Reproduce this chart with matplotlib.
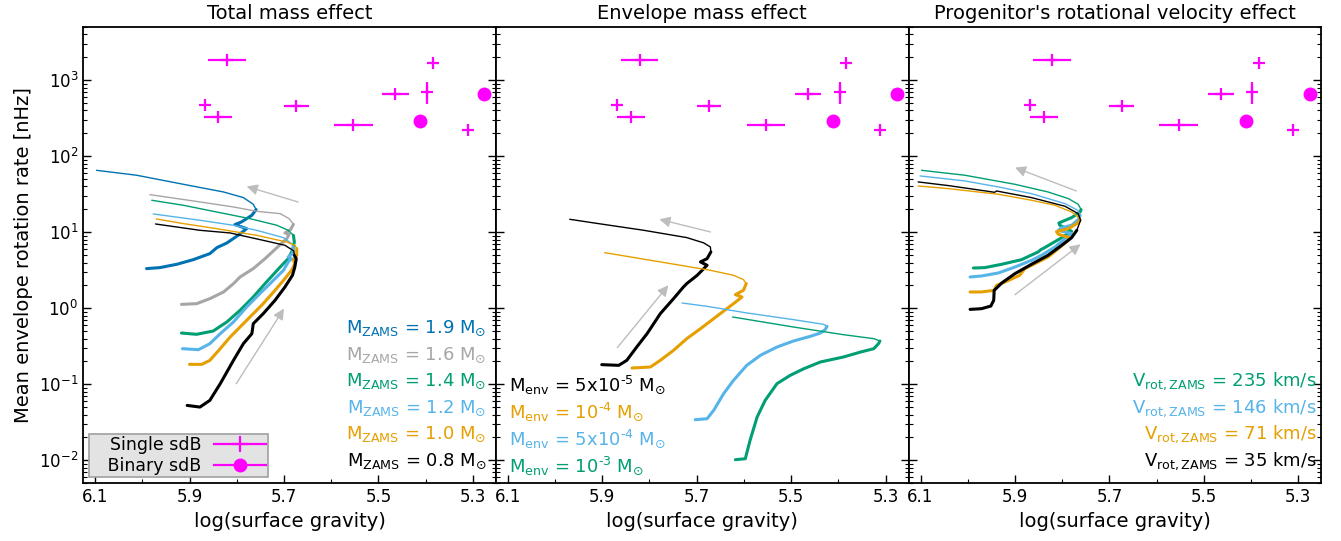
"""Envelope rotation rate vs surface gravity for sdB models, three effects side by side."""
import matplotlib

matplotlib.use("Agg")
import matplotlib.pyplot as plt  # noqa: E402
import numpy as np  # noqa: E402
from matplotlib.lines import Line2D  # noqa: E402
from matplotlib.ticker import FixedLocator  # noqa: E402

plt.rcParams["axes.unicode_minus"] = False

# --- observed sdB stars: log g, rotation rate [nHz] ---
SINGLE_LOGG = [5.821, 5.384, 5.868, 5.839, 5.674, 5.553, 5.464, 5.397, 5.311]
SINGLE_RATE = [1850, 1675, 469, 333, 455, 258, 655, 710, 220]
SINGLE_LOGG_ERR = [0.040, 0.0, 0.0, 0.030, 0.026, 0.041, 0.028, 0.0, 0.0]
SINGLE_RATE_ERR = [0, 0, 0, 0, 0, 0, 0, 225, 0]
BINARY_LOGG = [5.411, 5.276]
BINARY_RATE = [292, 649]

# --- model tracks: (log g, log10 rate[nHz]); thick = contraction, thin = expansion ---
# Total mass effect
M19_THICK = [(5.991, 0.522), (5.963, 0.535), (5.927, 0.579), (5.892, 0.640), (5.857, 0.719),
             (5.842, 0.798), (5.821, 0.859), (5.797, 0.960), (5.779, 1.048), (5.804, 1.101),
             (5.790, 1.136), (5.768, 1.223), (5.759, 1.298)]
M19_THIN = [(5.759, 1.298), (5.765, 1.368), (5.786, 1.456), (5.828, 1.530), (5.913, 1.631),
            (6.012, 1.750), (6.097, 1.815)]
M16_THICK = [(5.917, 0.052), (5.885, 0.061), (5.857, 0.127), (5.828, 0.215), (5.807, 0.324),
             (5.793, 0.412), (5.765, 0.522), (5.740, 0.653), (5.715, 0.798), (5.694, 0.916),
             (5.689, 0.973), (5.698, 0.991), (5.686, 1.035), (5.680, 1.105)]
M16_THIN = [(5.680, 1.105), (5.689, 1.179), (5.708, 1.245), (5.758, 1.276), (5.807, 1.333),
            (5.878, 1.399), (5.984, 1.495)]
M14_THICK = [(5.917, -0.325), (5.885, -0.342), (5.850, -0.299), (5.821, -0.180), (5.793, -0.027),
             (5.765, 0.149), (5.737, 0.346), (5.708, 0.543), (5.691, 0.653), (5.682, 0.763),
             (5.678, 0.872), (5.680, 0.960)]
M14_THIN = [(5.680, 0.960), (5.691, 1.026), (5.715, 1.092), (5.772, 1.179), (5.843, 1.267),
            (5.913, 1.355), (5.980, 1.421)]
M12_THICK = [(5.915, -0.531), (5.881, -0.544), (5.857, -0.465), (5.835, -0.334), (5.807, -0.180),
             (5.779, 0.017), (5.751, 0.193), (5.726, 0.346), (5.701, 0.500), (5.691, 0.609),
             (5.684, 0.653), (5.691, 0.675), (5.682, 0.719), (5.680, 0.798)]
M12_THIN = [(5.680, 0.798), (5.684, 0.851), (5.701, 0.929), (5.758, 1.026), (5.807, 1.092),
            (5.878, 1.158), (5.977, 1.241)]
M10_THICK = [(5.900, -0.737), (5.874, -0.737), (5.857, -0.685), (5.835, -0.531), (5.814, -0.378),
             (5.793, -0.246), (5.765, -0.071), (5.744, 0.061), (5.722, 0.215), (5.701, 0.368),
             (5.684, 0.500), (5.677, 0.587), (5.680, 0.631), (5.673, 0.697), (5.673, 0.785)]
M10_THIN = [(5.673, 0.785), (5.677, 0.829), (5.694, 0.872), (5.758, 0.960), (5.843, 1.048),
            (5.913, 1.114), (5.970, 1.175)]
M08_THICK = [(5.905, -1.277), (5.878, -1.299), (5.857, -1.211), (5.835, -0.992), (5.807, -0.685),
             (5.786, -0.465), (5.768, -0.334), (5.765, -0.202), (5.744, -0.071), (5.719, 0.105),
             (5.698, 0.280), (5.682, 0.434), (5.677, 0.543), (5.674, 0.653), (5.678, 0.697)]
M08_THIN = [(5.678, 0.697), (5.679, 0.754), (5.698, 0.829), (5.744, 0.894), (5.814, 0.991),
            (5.878, 1.026), (5.972, 1.109)]

# Envelope mass effect
E5_THICK = [(5.901, -0.741), (5.865, -0.750), (5.848, -0.684), (5.827, -0.509), (5.805, -0.333),
            (5.777, -0.070), (5.749, 0.127), (5.728, 0.281), (5.721, 0.325), (5.699, 0.434),
            (5.678, 0.566), (5.692, 0.610), (5.678, 0.653), (5.670, 0.741)]
E5_THIN = [(5.670, 0.741), (5.671, 0.807), (5.685, 0.860), (5.721, 0.930), (5.812, 1.026),
           (5.918, 1.123), (5.969, 1.171)]
E4_THICK = [(5.837, -0.785), (5.798, -0.772), (5.777, -0.684), (5.749, -0.553), (5.721, -0.399),
            (5.692, -0.268), (5.664, -0.136), (5.636, -0.004), (5.622, 0.061), (5.604, 0.149),
            (5.618, 0.180), (5.601, 0.237), (5.595, 0.325)]
E4_THIN = [(5.595, 0.325), (5.601, 0.377), (5.622, 0.434), (5.671, 0.500), (5.777, 0.610),
           (5.895, 0.732)]
E54_THICK = [(5.703, -1.465), (5.678, -1.452), (5.664, -1.342), (5.643, -1.123), (5.622, -0.947),
             (5.594, -0.750), (5.565, -0.618), (5.530, -0.509), (5.495, -0.430), (5.459, -0.368),
             (5.438, -0.325), (5.428, -0.281), (5.424, -0.237)]
E54_THIN = [(5.424, -0.237), (5.431, -0.211), (5.495, -0.149), (5.594, -0.061), (5.678, 0.026),
            (5.731, 0.070)]
E3_THICK = [(5.618, -1.991), (5.597, -1.978), (5.587, -1.737), (5.572, -1.430), (5.555, -1.211),
            (5.530, -0.991), (5.502, -0.882), (5.473, -0.794), (5.438, -0.706), (5.389, -0.640),
            (5.353, -0.575), (5.325, -0.531), (5.315, -0.465), (5.312, -0.430)]
E3_THIN = [(5.312, -0.430), (5.325, -0.399), (5.389, -0.347), (5.495, -0.246), (5.624, -0.114)]

# Progenitor's rotational velocity effect
V235_THICK = [(5.988, 0.530), (5.964, 0.535), (5.928, 0.579), (5.886, 0.640), (5.851, 0.741),
              (5.845, 0.772), (5.837, 0.798), (5.801, 0.929), (5.780, 1.013), (5.805, 1.092),
              (5.807, 1.122), (5.780, 1.193), (5.762, 1.267), (5.760, 1.298)]
V235_THIN = [(5.760, 1.298), (5.766, 1.368), (5.787, 1.443), (5.830, 1.530), (5.900, 1.631),
             (6.006, 1.750), (6.098, 1.815)]
V146_THICK = [(5.995, 0.412), (5.971, 0.425), (5.935, 0.465), (5.900, 0.543), (5.865, 0.631),
              (5.844, 0.697), (5.815, 0.807), (5.794, 0.916), (5.780, 0.982), (5.808, 1.026),
              (5.801, 1.061), (5.780, 1.092), (5.766, 1.166), (5.762, 1.223)]
V146_THIN = [(5.762, 1.223), (5.767, 1.289), (5.794, 1.377), (5.865, 1.508), (5.935, 1.596),
             (6.006, 1.675), (6.101, 1.741)]
V71_THICK = [(5.995, 0.215), (5.971, 0.215), (5.944, 0.236), (5.939, 0.302), (5.921, 0.346),
             (5.890, 0.434), (5.879, 0.522), (5.858, 0.587), (5.830, 0.675), (5.808, 0.785),
             (5.787, 0.894), (5.784, 0.929), (5.808, 0.973), (5.812, 1.008), (5.787, 1.048),
             (5.769, 1.114), (5.762, 1.158)]
V71_THIN = [(5.762, 1.158), (5.766, 1.201), (5.780, 1.267), (5.815, 1.355), (5.865, 1.421),
            (5.935, 1.500), (6.041, 1.574), (6.105, 1.609)]
V35_THICK = [(5.995, -0.014), (5.971, -0.005), (5.951, 0.030), (5.945, 0.105), (5.944, 0.236),
             (5.928, 0.333), (5.900, 0.456), (5.865, 0.579), (5.830, 0.697), (5.801, 0.829),
             (5.780, 0.929), (5.769, 1.026)]
V35_THIN = [(5.769, 1.026), (5.761, 1.158), (5.766, 1.245), (5.794, 1.342), (5.865, 1.456),
            (5.939, 1.543), (5.943, 1.526), (6.041, 1.614), (6.105, 1.662)]

# evolution-direction arrows per panel: (tail, head) in (log g, rate)
ARROWS = [
    [((5.801, 0.102), (5.700, 0.99)), ((5.670, 25.0), (5.779, 40.0))],
    [((5.868, 0.304), (5.760, 2.01)), ((5.671, 10.1), (5.779, 14.8))],
    [((5.900, 1.51), (5.761, 6.95)), ((5.770, 34.9), (5.900, 71.0))],
]

TITLES = ["Total mass effect", "Envelope mass effect",
          "Progenitor's rotational velocity effect"]

BLUE, GREY, GREEN, SKY, ORANGE, BLACK = ("#0072B2", "#a6a6a6", "#009E73",
                                         "#56B4E9", "#E69F00", "black")

PANELS = [
    [(M19_THICK, M19_THIN, BLUE, r"M$_{\rm ZAMS}$ = 1.9 M$_{\odot}$"),
     (M16_THICK, M16_THIN, GREY, r"M$_{\rm ZAMS}$ = 1.6 M$_{\odot}$"),
     (M14_THICK, M14_THIN, GREEN, r"M$_{\rm ZAMS}$ = 1.4 M$_{\odot}$"),
     (M12_THICK, M12_THIN, SKY, r"M$_{\rm ZAMS}$ = 1.2 M$_{\odot}$"),
     (M10_THICK, M10_THIN, ORANGE, r"M$_{\rm ZAMS}$ = 1.0 M$_{\odot}$"),
     (M08_THICK, M08_THIN, BLACK, r"M$_{\rm ZAMS}$ = 0.8 M$_{\odot}$")],
    [(E5_THICK, E5_THIN, BLACK, r"M$_{\rm env}$ = 5x10$^{\text{-5}}$ M$_{\odot}$"),
     (E4_THICK, E4_THIN, ORANGE, r"M$_{\rm env}$ = 10$^{\text{-4}}$ M$_{\odot}$"),
     (E54_THICK, E54_THIN, SKY, r"M$_{\rm env}$ = 5x10$^{\text{-4}}$ M$_{\odot}$"),
     (E3_THICK, E3_THIN, GREEN, r"M$_{\rm env}$ = 10$^{\text{-3}}$ M$_{\odot}$")],
    [(V235_THICK, V235_THIN, GREEN, r"V$_{\rm rot,ZAMS}$ = 235 km/s"),
     (V146_THICK, V146_THIN, SKY, r"V$_{\rm rot,ZAMS}$ = 146 km/s"),
     (V71_THICK, V71_THIN, ORANGE, r"V$_{\rm rot,ZAMS}$ = 71 km/s"),
     (V35_THICK, V35_THIN, BLACK, r"V$_{\rm rot,ZAMS}$ = 35 km/s")],
]

# label placement per panel: x, ha, baselines (axes fraction)
LABEL_POS = [
    (0.977, "right", [0.329, 0.271, 0.213, 0.155, 0.097, 0.038]),
    (0.031, "left", [0.203, 0.143, 0.084, 0.025]),
    (0.989, "right", [0.213, 0.155, 0.097, 0.037]),
]


def plot_branch(ax, pts, color, lw):
    arr = np.array(pts)
    ax.plot(arr[:, 0], 10 ** arr[:, 1], color=color, lw=lw, solid_capstyle="round")


def main():
    fig = plt.figure(figsize=(13.41, 5.41), dpi=100)
    axes = fig.subplots(1, 3, sharey=True)
    fig.subplots_adjust(left=0.0621, right=0.9854, top=0.950, bottom=0.1067, wspace=0)

    for i, ax in enumerate(axes):
        for thick, thin, color, _ in PANELS[i]:
            plot_branch(ax, thin, color, 1.0)
            plot_branch(ax, thick, color, 2.2)

        for tail, head in ARROWS[i]:
            ax.annotate("", xy=head, xytext=tail,
                        arrowprops=dict(arrowstyle="-|>", color="#bdbdbd", lw=1.0,
                                        mutation_scale=16, shrinkA=0, shrinkB=0))

        ax.errorbar(SINGLE_LOGG, SINGLE_RATE, xerr=SINGLE_LOGG_ERR, yerr=SINGLE_RATE_ERR,
                    fmt="+", color="magenta", ms=8, mew=1.6, elinewidth=1.6, capsize=0)
        ax.errorbar(BINARY_LOGG, BINARY_RATE, fmt="o", color="magenta", ms=9)

        x, ha, ys = LABEL_POS[i]
        for (_, _, color, label), y in zip(PANELS[i], ys):
            ax.text(x, y, label, color=color, ha=ha, va="baseline", fontsize=13,
                    transform=ax.transAxes)

        ax.set_yscale("log")
        ax.set_xlim(6.125, 5.251)
        ax.set_ylim(5e-3, 5e3)
        ax.xaxis.set_major_locator(FixedLocator([6.1, 5.9, 5.7, 5.5, 5.3]))
        ax.xaxis.set_minor_locator(FixedLocator([6.0, 5.8, 5.6, 5.4]))
        ax.tick_params(which="both", direction="in", right=True, top=False, labelsize=12)
        ax.tick_params(which="major", length=6, width=1.0)
        ax.tick_params(which="minor", length=3, width=0.8)
        for sp in ax.spines.values():
            sp.set_linewidth(1.3)
        ax.set_title(TITLES[i], fontsize=14)
        ax.set_xlabel("log(surface gravity)", fontsize=14)

    axes[0].set_ylabel("Mean envelope rotation rate [nHz]", fontsize=14)

    # legend entries are right-aligned (markerfirst=False); the leading spaces
    # give the wider left margin of the original box
    handles = [Line2D([], [], color="magenta", marker="+", ms=12, mew=1.6, lw=1.6),
               Line2D([], [], color="magenta", marker="o", ms=9, lw=1.6)]
    leg = axes[0].legend(handles, ["Single sdB", "   Binary sdB"], loc="lower left",
                         fontsize=12.5, markerfirst=False, handlelength=3.0, fancybox=False,
                         facecolor="#e3e3e3", edgecolor="#a0a0a0", framealpha=1,
                         borderpad=0.1, labelspacing=0.2, handletextpad=0.75,
                         borderaxespad=0.35)
    leg.get_frame().set_linewidth(1.2)

    fig.savefig("out.png", dpi=100)


if __name__ == "__main__":
    main()
